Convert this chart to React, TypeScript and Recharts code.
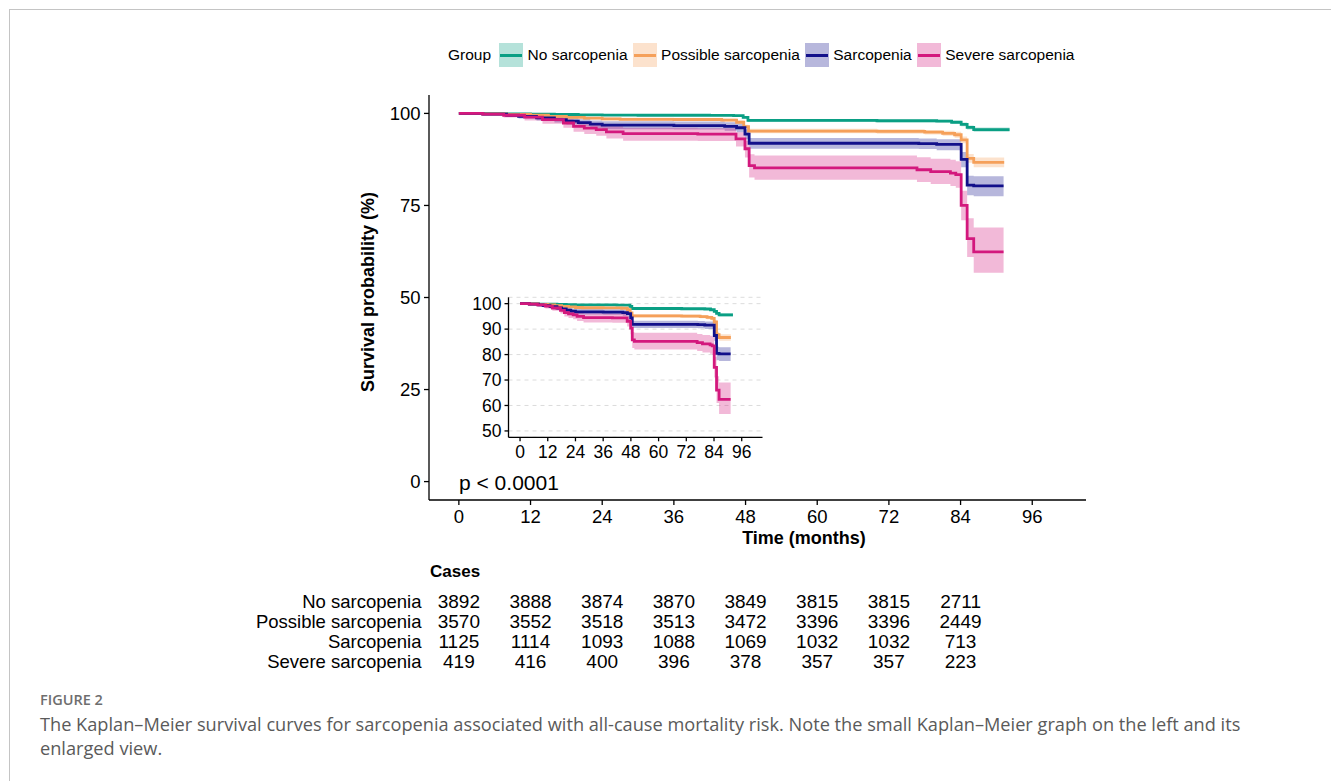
import { Area, CartesianGrid, ComposedChart, Line, Scatter, ScatterChart, XAxis, YAxis } from "recharts"

const groups = ["No sarcopenia", "Possible sarcopenia", "Sarcopenia", "Severe sarcopenia"]
const colors = ["#0A9F84", "#F5A05A", "#12108A", "#D3187D"]

// Kaplan-Meier steps (months, survival %, 95% CI)
const noSarcTime = [0, 4, 8, 12, 16, 20, 24, 30, 36, 42, 46, 47.6, 48.4, 70, 80, 82.5, 84.1, 85.1, 86.2, 92.2]
const noSarcSurv = [100, 99.95, 99.85, 99.8, 99.7, 99.6, 99.55, 99.5, 99.5, 99.45, 99.4, 98.9, 98.1, 98.0, 97.9, 97.6, 97.0, 96.2, 95.6, 95.6]
const noSarcLower = [100, 99.9, 99.75, 99.65, 99.55, 99.45, 99.35, 99.3, 99.3, 99.25, 99.2, 98.6, 97.7, 97.6, 97.5, 97.2, 96.5, 95.6, 95.0, 95.0]
const noSarcUpper = [100, 100, 99.95, 99.9, 99.85, 99.8, 99.75, 99.7, 99.7, 99.65, 99.6, 99.2, 98.4, 98.3, 98.25, 98.0, 97.5, 96.7, 96.2, 96.2]

const possibleTime = [0, 4, 8, 12, 15, 18, 21, 24, 27, 36, 44, 46.5, 47.7, 48.5, 70, 78, 81, 83, 84.1, 85.1, 86.2, 91.3]
const possibleSurv = [100, 99.9, 99.7, 99.5, 99.2, 98.9, 98.7, 98.5, 98.4, 98.35, 98.2, 97.6, 96.4, 95.2, 95.1, 94.9, 94.6, 94.2, 92.8, 87.8, 86.7, 86.7]
const possibleLower = [100, 99.8, 99.55, 99.3, 98.95, 98.6, 98.35, 98.1, 98.0, 97.95, 97.8, 97.1, 95.9, 94.6, 94.5, 94.3, 93.9, 93.4, 91.9, 86.6, 85.4, 85.4]
const possibleUpper = [100, 100, 99.85, 99.7, 99.45, 99.2, 99.05, 98.9, 98.8, 98.75, 98.6, 98.1, 96.9, 95.8, 95.7, 95.5, 95.3, 95.0, 93.7, 89.0, 88.0, 88.0]

const sarcTime = [0, 4, 8, 10, 13, 16, 18, 20, 22, 24, 36, 44.5, 46.5, 47.9, 48.6, 77, 80, 84.1, 85.1, 86.2, 91.2]
const sarcSurv = [100, 99.8, 99.5, 99.2, 98.8, 98.3, 97.9, 97.5, 97.1, 96.8, 96.7, 96.5, 96.1, 94.4, 91.9, 91.8, 91.6, 87.5, 80.5, 80.3, 80.3]
const sarcLower = [100, 99.5, 99.0, 98.6, 98.1, 97.5, 97.0, 96.5, 96.0, 95.7, 95.6, 95.3, 94.9, 93.0, 90.4, 90.3, 90.0, 85.4, 77.8, 77.5, 77.5]
const sarcUpper = [100, 100, 99.9, 99.7, 99.4, 99.0, 98.7, 98.4, 98.1, 97.9, 97.8, 97.6, 97.2, 95.7, 93.3, 93.2, 93.0, 89.5, 83.1, 82.9, 82.9]

const severeTime = [0, 4, 7.5, 11, 14, 17.5, 19.2, 21, 23, 24.7, 27.5, 40, 46.4, 47.9, 48.6, 49.5, 76.7, 79, 82.3, 83.2, 84.1, 85.1, 86.2, 91.2]
const severeSurv = [100, 99.8, 99.5, 99.0, 98.3, 97.4, 96.5, 96.0, 95.6, 95.0, 94.5, 94.4, 93.1, 90.4, 85.8, 85.2, 84.7, 84.2, 83.8, 83.4, 75.0, 66.0, 62.4, 62.4]
const severeLower = [100, 99.4, 98.9, 98.1, 97.2, 96.1, 95.0, 94.4, 93.9, 93.2, 92.6, 92.5, 91.0, 88.0, 82.6, 82.0, 81.4, 80.8, 80.3, 79.8, 71.0, 61.0, 56.7, 56.7]
const severeUpper = [100, 100, 99.9, 99.6, 99.1, 98.4, 97.7, 97.3, 97.0, 96.5, 96.1, 96.0, 94.9, 92.6, 88.9, 88.6, 88.1, 87.7, 87.4, 87.0, 79.0, 71.5, 69.0, 69.0]

// numbers at risk
const riskTimes = [0, 12, 24, 36, 48, 60, 72, 84]
const riskNoSarc = [3892, 3888, 3874, 3870, 3849, 3815, 3815, 2711]
const riskPossible = [3570, 3552, 3518, 3513, 3472, 3396, 3396, 2449]
const riskSarc = [1125, 1114, 1093, 1088, 1069, 1032, 1032, 713]
const riskSevere = [419, 416, 400, 396, 378, 357, 357, 223]

const xTicks = [0, 12, 24, 36, 48, 60, 72, 84, 96]
const mainYTicks = [0, 25, 50, 75, 100]
const insetYTicks = [50, 60, 70, 80, 90, 100]

const makeSeries = (time: number[], surv: number[], lower: number[], upper: number[]) =>
  time.map((t, i) => ({ t, s: surv[i], band: [lower[i], upper[i]] }))

const series = [
  makeSeries(noSarcTime, noSarcSurv, noSarcLower, noSarcUpper),
  makeSeries(possibleTime, possibleSurv, possibleLower, possibleUpper),
  makeSeries(sarcTime, sarcSurv, sarcLower, sarcUpper),
  makeSeries(severeTime, severeSurv, severeLower, severeUpper),
]

const riskRows = [riskNoSarc, riskPossible, riskSarc, riskSevere]
const riskData = riskRows.flatMap((row, g) => row.map((n, i) => ({ t: riskTimes[i], g, n })))

const font = "'Liberation Sans', Arial, Helvetica, sans-serif"
const captionFont = "'Open Sans', 'Noto Sans', sans-serif"
const axisStyle = { stroke: "#000", strokeWidth: 1.3 }

function curves() {
  return [
    ...series.map((d, i) => (
      <Area
        key={"band" + i}
        data={d}
        dataKey="band"
        type="stepAfter"
        stroke="none"
        fill={colors[i]}
        fillOpacity={0.3}
        isAnimationActive={false}
        activeDot={false}
      />
    )),
    ...series.map((d, i) => (
      <Line
        key={"line" + i}
        data={d}
        dataKey="s"
        type="stepAfter"
        stroke={colors[i]}
        strokeWidth={2.8}
        dot={false}
        activeDot={false}
        isAnimationActive={false}
      />
    )),
  ]
}

function Legend() {
  return (
    <div
      style={{
        position: "absolute",
        left: 448,
        top: 43,
        height: 24,
        display: "flex",
        alignItems: "center",
        fontFamily: font,
        fontSize: 15.5,
        whiteSpace: "nowrap",
      }}
    >
      <span style={{ marginRight: 8 }}>Group</span>
      {groups.map((g, i) => (
        <div key={g} style={{ display: "flex", alignItems: "center", marginRight: 5 }}>
          <div
            style={{
              width: 24,
              height: 24,
              background: colors[i] + "4D",
              position: "relative",
              marginRight: 4.5,
            }}
          >
            <div style={{ position: "absolute", left: 1, right: 1, top: 10.5, height: 3, background: colors[i] }} />
          </div>
          <span>{g}</span>
        </div>
      ))}
    </div>
  )
}

export default function App() {
  return (
    <div style={{ position: "absolute", left: 0, top: 0, width: 1331, height: 781, background: "#fff", overflow: "hidden" }}>
      <div
        style={{
          position: "absolute",
          left: 9,
          top: 9,
          width: 1340,
          height: 800,
          borderLeft: "1.5px solid #c4c4c4",
          borderTop: "1.5px solid #c4c4c4",
        }}
      />

      <Legend />

      {/* main survival plot */}
      <div style={{ position: "absolute", left: 0, top: 0 }}>
        <ComposedChart width={1331} height={560} margin={{ top: 95, right: 245, bottom: 30, left: 369 }}>
          <XAxis
            type="number"
            dataKey="t"
            domain={[-5, 105]}
            ticks={xTicks}
            interval={0}
            height={30}
            tickSize={5}
            tickMargin={5}
            axisLine={axisStyle}
            tickLine={axisStyle}
            tick={{ fill: "#000", fontSize: 18.5, fontFamily: font }}
            allowDuplicatedCategory={false}
          />
          <YAxis
            type="number"
            domain={[-5, 105]}
            ticks={mainYTicks}
            interval={0}
            width={60}
            tickSize={5}
            tickMargin={3.5}
            axisLine={axisStyle}
            tickLine={axisStyle}
            tick={{ fill: "#000", fontSize: 18.5, fontFamily: font }}
          />
          {curves()}
        </ComposedChart>
      </div>

      {/* inset (enlarged view) */}
      <div style={{ position: "absolute", left: 440, top: 285 }}>
        <ComposedChart width={340} height={185} margin={{ top: 12.3, right: 17.5, bottom: 7.7, left: 28.5 }}>
          <CartesianGrid vertical={false} stroke="#dcdcdc" strokeDasharray="4 4" />
          <XAxis
            type="number"
            dataKey="t"
            domain={[-5, 105]}
            ticks={xTicks}
            height={25}
            tickSize={4}
            tickMargin={4}
            axisLine={axisStyle}
            tickLine={axisStyle}
            tick={{ fill: "#000", fontSize: 17.5, fontFamily: font }}
            interval={0}
            allowDuplicatedCategory={false}
          />
          <YAxis
            type="number"
            domain={[47.5, 102.5]}
            ticks={insetYTicks}
            interval={0}
            width={40}
            tickSize={4}
            tickMargin={3}
            axisLine={axisStyle}
            tickLine={axisStyle}
            tick={{ fill: "#000", fontSize: 17.5, fontFamily: font }}
          />
          {curves()}
        </ComposedChart>
      </div>

      <div
        style={{
          position: "absolute",
          left: 368,
          top: 292,
          transform: "translate(-50%, -50%) rotate(-90deg)",
          fontFamily: font,
          fontWeight: "bold",
          fontSize: 18,
          whiteSpace: "nowrap",
        }}
      >
        Survival probability (%)
      </div>
      <div
        style={{
          position: "absolute",
          left: 804,
          top: 538,
          transform: "translate(-50%, -50%)",
          fontFamily: font,
          fontWeight: "bold",
          fontSize: 18,
          whiteSpace: "nowrap",
        }}
      >
        Time (months)
      </div>
      <div
        style={{
          position: "absolute",
          left: 459,
          top: 483,
          transform: "translateY(-50%)",
          fontFamily: font,
          fontSize: 21,
          whiteSpace: "nowrap",
        }}
      >
        p &lt; 0.0001
      </div>

      {/* risk table */}
      <div
        style={{
          position: "absolute",
          left: 430,
          top: 571.5,
          transform: "translateY(-50%)",
          fontFamily: font,
          fontWeight: "bold",
          fontSize: 17,
        }}
      >
        Cases
      </div>
      <div style={{ position: "absolute", left: 0, top: 560 }}>
        <ScatterChart width={1331} height={120} margin={{ top: 31.8, right: 245, bottom: 9.1, left: 229 }}>
          <XAxis type="number" dataKey="t" domain={[-5, 105]} hide />
          <YAxis
            type="number"
            dataKey="g"
            domain={[-0.5, 3.5]}
            ticks={[0, 1, 2, 3]}
            interval={0}
            reversed
            width={200}
            axisLine={false}
            tickLine={false}
            tickSize={0}
            tickMargin={7.5}
            tickFormatter={(v: number) => groups[v]}
            tick={{ fill: "#000", fontSize: 18.5, fontFamily: font }}
          />
          <Scatter
            data={riskData}
            isAnimationActive={false}
            shape={(p: any) => (
              <text
                x={p.cx}
                y={p.cy}
                dy="0.355em"
                textAnchor="middle"
                fontSize={19}
                fontFamily={font}
                fill="#000"
              >
                {p.payload.n}
              </text>
            )}
          />
        </ScatterChart>
      </div>

      {/* caption */}
      <div
        style={{
          position: "absolute",
          left: 40,
          top: 690,
          fontFamily: captionFont,
          fontSize: 14.5,
          fontWeight: 600,
          color: "#6e6e6e",
        }}
      >
        FIGURE 2
      </div>
      <div
        style={{
          position: "absolute",
          left: 40,
          top: 712,
          fontFamily: captionFont,
          fontSize: 18.2,
          lineHeight: "24px",
          color: "#5a5a5a",
          whiteSpace: "nowrap",
        }}
      >
        The Kaplan–Meier survival curves for sarcopenia associated with all-cause mortality risk. Note the small Kaplan–Meier graph on the left and its
        <br />
        enlarged view.
      </div>
    </div>
  )
}
